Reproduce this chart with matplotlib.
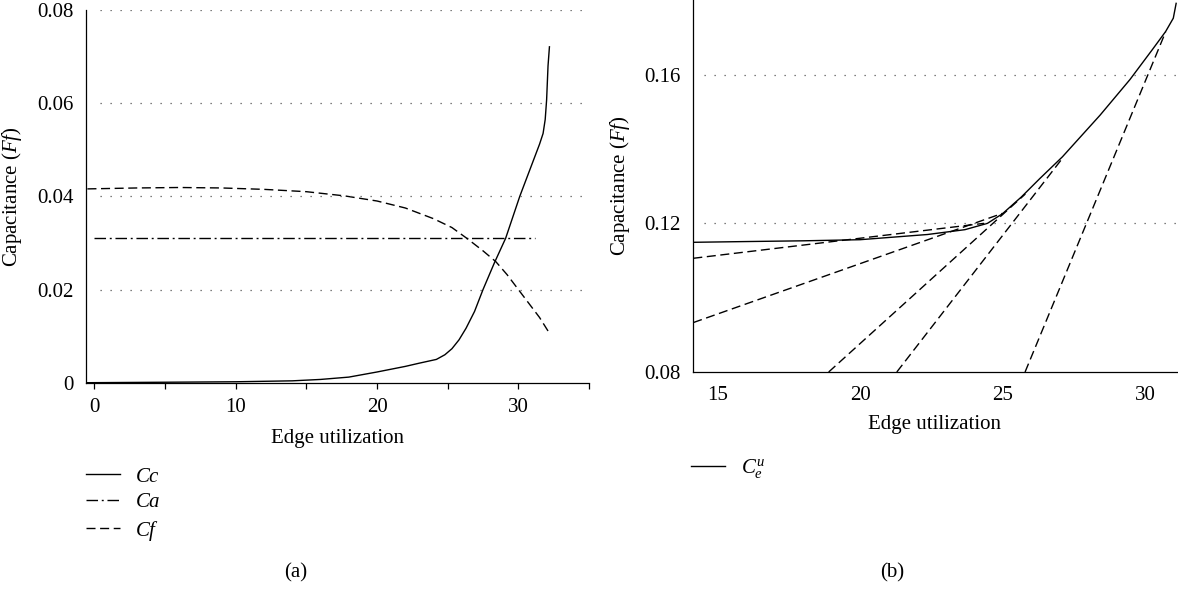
import matplotlib
matplotlib.use("Agg")
import matplotlib.pyplot as plt

plt.rcParams["font.family"] = ["Liberation Serif", "DejaVu Serif"]
plt.rcParams["mathtext.fontset"] = "custom"
plt.rcParams["mathtext.rm"] = "Liberation Serif"
plt.rcParams["mathtext.it"] = "Liberation Serif:italic"
plt.rcParams["font.size"] = 15

# ---- panel (a): capacitance components vs edge utilization ----
cc_x = [-0.5, 5, 10, 14, 16, 18, 20, 22, 23, 24.2, 24.8, 25.3, 25.8, 26.3,
        26.9, 27.5, 28.3, 29.1, 30.1, 31.0, 31.5, 31.75, 31.9, 32.0, 32.1, 32.2]
cc_y = [0, 0.0001, 0.0002, 0.0004, 0.0007, 0.0012, 0.0023, 0.0035, 0.0042,
        0.0050, 0.0060, 0.0073, 0.0092, 0.0117, 0.0153, 0.0200, 0.0257,
        0.0310, 0.0400, 0.0472, 0.0512, 0.0535, 0.0565, 0.0607, 0.0680, 0.0721]

ca_x = [-0.05, 31.2]
ca_y = [0.0310, 0.0310]

cf_x = [-0.5, 3, 6, 9, 12, 15, 17.7, 20, 22, 24, 25.3, 26.35, 27.5, 28.4,
        29.2, 30.0, 30.8, 31.5, 32.1]
cf_y = [0.0416, 0.0418, 0.0419, 0.0418, 0.0415, 0.0410, 0.0401, 0.0390,
        0.0375, 0.0352, 0.0333, 0.0310, 0.0283, 0.0260, 0.0232, 0.0200,
        0.0168, 0.0140, 0.0111]

# ---- panel (b): upper-bound curve and its tangent lines ----
ceu_x = [14.15, 16, 18, 20, 22.37, 23.68, 24.47, 25.0, 25.66, 26.3, 27.1,
         27.63, 28.42, 29.47, 30.26, 30.72, 30.99, 31.09]
ceu_y = [0.1149, 0.1151, 0.1153, 0.1156, 0.1170, 0.1183, 0.1200, 0.1226,
         0.1271, 0.1320, 0.1379, 0.1424, 0.1491, 0.1587, 0.1668, 0.1716,
         0.1752, 0.1792]

tangent_x = [(14.15, 24.35), (14.15, 25.0), (18.9, 25.8), (21.29, 27.1), (25.79, 30.72)]
tangent_y = [(0.1106, 0.1200), (0.0933, 0.1227), (0.08, 0.1279), (0.08, 0.1375), (0.08, 0.1715)]

a_yticks = [0, 0.02, 0.04, 0.06, 0.08]
a_ylabels = ["0", "0.02", "0.04", "0.06", "0.08"]
b_yticks = [0.08, 0.12, 0.16]
b_ylabels = ["0.08", "0.12", "0.16"]

W, H = 1178, 590
fig = plt.figure(figsize=(W / 100, H / 100), dpi=100)

LW = 1.0
DASH = (0, (6.5, 3.3))
DASHDOT = (0, (8.3, 2.7, 1.4, 2.7))
DOTTED = (0, (1, 7))


def style_axes(ax):
    for s in ("top", "right"):
        ax.spines[s].set_visible(False)
    for s in ("left", "bottom"):
        ax.spines[s].set_linewidth(0.9)
    ax.tick_params(axis="y", length=0, pad=9)


# panel (a)
ax_a = fig.add_axes([86 / W, 1 - 382.7 / H, (589 - 86) / W, (382.7 - 10) / H])
style_axes(ax_a)
ax_a.plot(cc_x, cc_y, color="black", lw=LW, label="$Cc$")
ax_a.plot(ca_x, ca_y, color="black", lw=LW, linestyle=DASHDOT, label="$Ca$")
ax_a.plot(cf_x, cf_y, color="black", lw=LW, linestyle=DASH, label="$Cf$")
for v in a_yticks[1:]:
    ax_a.axhline(v, xmin=0.028, color="#555555", lw=0.9, linestyle=DOTTED)
ax_a.set_xlim(-0.6, 35)
ax_a.set_ylim(0, 0.08)
ax_a.set_xticks([0, 10, 20, 30])
ax_a.set_xticks([5, 15, 25, 35], minor=True)
ax_a.tick_params(axis="x", which="both", direction="out", length=4, width=0.9, pad=7)
ax_a.set_yticks(a_yticks)
ax_a.set_yticklabels(a_ylabels)
ax_a.set_xlabel("Edge utilization", labelpad=9)
ax_a.set_ylabel("Capacitance ($Ff$)", labelpad=9)
ax_a.legend(loc="upper left", bbox_to_anchor=(86 / W, 1 - 467 / H),
            bbox_transform=fig.transFigure, frameon=False, borderpad=0,
            borderaxespad=0, handlelength=1.65, handletextpad=0.7,
            labelspacing=0.3)
fig.text(296 / W, 1 - 573 / H, "(a)", ha="center", va="center")

# panel (b)
ax_b = fig.add_axes([693 / W, 1 - 372 / H, (1177 - 693) / W, 372 / H])
style_axes(ax_b)
ax_b.plot(ceu_x, ceu_y, color="black", lw=LW, label="$C_e^u$")
for tx, ty in zip(tangent_x, tangent_y):
    ax_b.plot(tx, ty, color="black", lw=LW, linestyle=DASH)
for v in b_yticks[1:]:
    ax_b.axhline(v, xmin=0.023, color="#555555", lw=0.9, linestyle=DOTTED)
ax_b.set_xlim(14.14, 31.12)
ax_b.set_ylim(0.08, 0.1801)
ax_b.set_xticks([15, 20, 25, 30])
ax_b.tick_params(axis="x", length=0, pad=10)
ax_b.set_yticks(b_yticks)
ax_b.set_yticklabels(b_ylabels)
ax_b.set_xlabel("Edge utilization", labelpad=7)
ax_b.set_ylabel("Capacitance ($Ff$)", labelpad=9)
ax_b.legend(loc="upper left", bbox_to_anchor=(691 / W, 1 - 457 / H),
            bbox_transform=fig.transFigure, frameon=False, borderpad=0,
            borderaxespad=0, handlelength=1.65, handletextpad=0.75)
fig.text(892 / W, 1 - 573 / H, "(b)", ha="center", va="center")

fig.savefig("out.png", dpi=100)
